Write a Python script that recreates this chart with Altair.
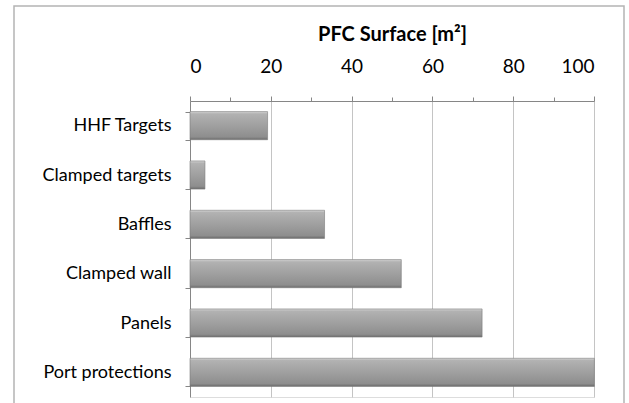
import altair as alt
import pandas as pd

categories = ["HHF Targets", "Clamped targets", "Baffles", "Clamped wall", "Panels", "Port protections"]
surface = [19.2, 3.7, 33.3, 52.3, 72.3, 100.1]
x_ticks = [0, 10, 20, 30, 40, 50, 60, 70, 80, 90, 100]

df = pd.DataFrame({"component": categories, "surface": surface})

FONT = "Lato"

grad = alt.LinearGradient(
    gradient="linear", x1=0, y1=0, x2=0, y2=1,
    stops=[
        alt.GradientStop(color="#d6d6d6", offset=0),
        alt.GradientStop(color="#b2b2b2", offset=0.08),
        alt.GradientStop(color="#8e8e8e", offset=0.9),
        alt.GradientStop(color="#6c6c6c", offset=1),
    ],
)

bars = alt.Chart(df).mark_bar(color=grad, stroke="#7a7a7a", strokeWidth=0.6).encode(
    x=alt.X(
        "surface:Q",
        scale=alt.Scale(domain=[0, 100], nice=False),
        axis=alt.Axis(
            orient="top",
            values=x_ticks,
            title="PFC Surface [m²]",
            titleFont=FONT,
            titleFontSize=20,
            titleFontWeight="bold",
            titleColor="#000000",
            titlePadding=13,
            labelFont=FONT,
            labelFontSize=19,
            labelColor="#000000",
            labelExpr="datum.value % 20 == 0 ? datum.label : ''",
            labelPadding=20,
            domainColor="#868686",
            tickColor="#868686",
            tickSize={"condition": {"test": "datum.value % 20 == 0", "value": 5}, "value": 4},
            grid=True,
            gridColor="#c4c4c4",
            gridOpacity={"condition": {"test": "datum.value % 20 == 0 && datum.value > 0", "value": 1}, "value": 0},
        ),
    ),
    y=alt.Y(
        "component:N",
        sort=categories,
        scale=alt.Scale(paddingInner=0.43, paddingOuter=0.215),
        axis=alt.Axis(
            title=None,
            labelFont=FONT,
            labelFontSize=18,
            labelColor="#000000",
            labelPadding=14,
            tickBand="extent",
            tickSize=5,
            tickColor="#868686",
            domainColor="#868686",
            grid=False,
        ),
    ),
)

frame = alt.Chart(df).mark_rect(fill=None, stroke="#b4b4b4", strokeWidth=1.5, clip=False).encode(
    x=alt.value(-176), x2=alt.value(434), y=alt.value(-95), y2=alt.value(330)
).transform_filter("datum.component == 'HHF Targets'")

chart = alt.layer(frame, bars).properties(
    width=404, height=296,
    autosize=alt.AutoSizeParams(type="none"),
    padding={"left": 190, "top": 101, "right": 35, "bottom": 6},
).configure_view(stroke=None).configure(background="white")

chart.save("out.html", embed_options={"renderer": "svg", "actions": False})
